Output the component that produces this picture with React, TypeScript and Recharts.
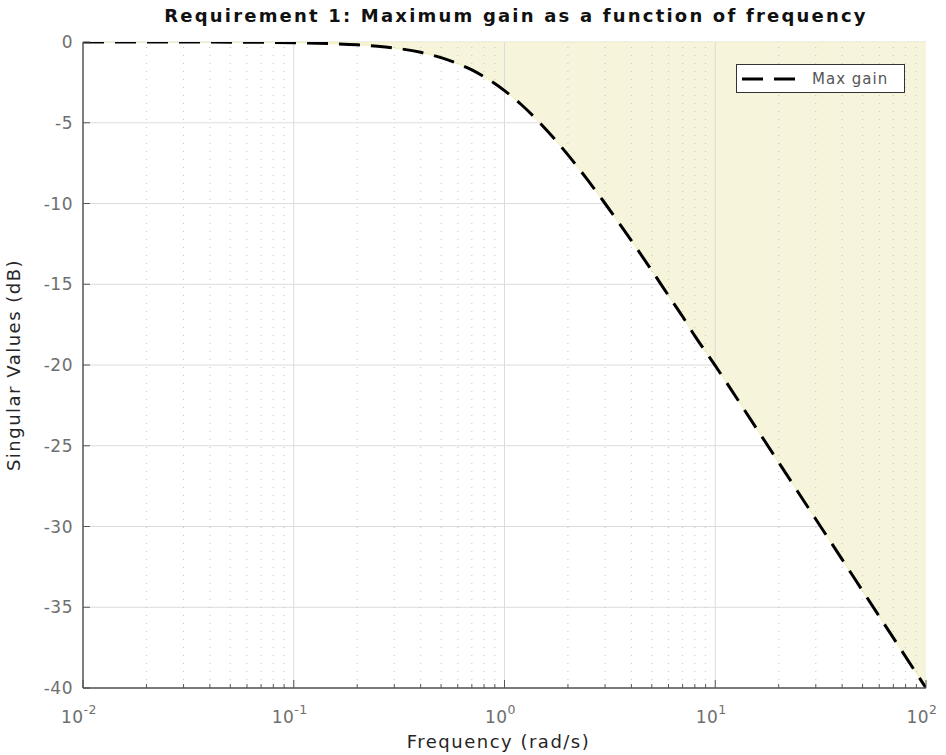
import React from "react";
import {
  ComposedChart,
  Area,
  Line,
  XAxis,
  YAxis,
  CartesianGrid,
  ReferenceLine,
} from "recharts";

// values
const frequencies = [
  0.01, 0.02, 0.05, 0.1, 0.15, 0.2, 0.25, 0.3, 0.4, 0.5, 0.6, 0.7, 0.8, 1, 1.2,
  1.5, 2, 2.5, 3, 4, 5, 6, 7, 8, 10, 15, 20, 30, 40, 50, 70, 100,
];
const maxGainDb = [
  0, -0.002, -0.01, -0.04, -0.1, -0.17, -0.26, -0.37, -0.64, -0.97, -1.34,
  -1.73, -2.15, -3.01, -3.87, -5.12, -6.99, -8.6, -10.0, -12.3, -14.15, -15.7,
  -17.0, -18.2, -20.04, -23.54, -26.03, -29.55, -32.04, -33.98, -36.9, -40.0,
];
const decadeTicks = [0.01, 0.1, 1, 10, 100];
const minorTicks = [2, 3, 4, 5, 6, 7, 8, 9].flatMap((m) =>
  [0.01, 0.1, 1, 10].map((d) => +(m * d).toPrecision(3))
);
const yTicks = [-40, -35, -30, -25, -20, -15, -10, -5, 0];

const data = frequencies.map((f, i) => ({
  freq: f,
  gain: maxGainDb[i],
  band: [maxGainDb[i], 0],
}));

const FONT = "'DejaVu Sans', sans-serif";
const TICK_GREY = "#6e6e6e";

const exponent = (v: number) => Math.round(Math.log10(v));

function XTick(props: any) {
  const { x, y, payload } = props;
  const v = payload.value;
  const isMajor = decadeTicks.includes(v);
  return (
    <g>
      <line x1={x} x2={x} y1={y} y2={y - (isMajor ? 8 : 4)} stroke="#555" strokeWidth={1} />
      {isMajor && (
        <text x={x - 4} y={y + 35} textAnchor="middle" fill={TICK_GREY} fontFamily={FONT} fontSize={17} letterSpacing={0.5}>
          <tspan>10</tspan>
          <tspan dy={-9} fontSize={12.5}>
            {exponent(v)}
          </tspan>
        </text>
      )}
    </g>
  );
}

function YTick(props: any) {
  const { x, y, payload } = props;
  return (
    <g>
      <line x1={x} x2={x + 7} y1={y} y2={y} stroke="#555" strokeWidth={1} />
      <text x={x - 10} y={y + 6} textAnchor="end" fill={TICK_GREY} fontFamily={FONT} fontSize={17} letterSpacing={0.5}>
        {payload.value}
      </text>
    </g>
  );
}

function LegendBox() {
  return (
    <div
      style={{
        position: "absolute",
        top: 64,
        left: 736,
        width: 169,
        height: 29,
        border: "1.5px solid #333",
        background: "#fff",
        boxSizing: "border-box",
        display: "flex",
        alignItems: "center",
        fontFamily: FONT,
        fontSize: 15,
        letterSpacing: 1,
        color: "#555",
      }}
    >
      <svg width={75} height={10}>
        <line x1={5} x2={58} y1={5} y2={5} stroke="#000" strokeWidth={3} strokeDasharray="21 11" />
      </svg>
      <span>Max gain</span>
    </div>
  );
}

export default function App() {
  return (
    <div style={{ position: "absolute", left: 0, top: 0, width: 946, height: 755, background: "#fff" }}>
      <ComposedChart
        width={946}
        height={755}
        data={data}
        margin={{ top: 42, right: 20, left: 0, bottom: 0 }}
      >
        <CartesianGrid vertical={false} stroke="#dcdcdc" strokeWidth={1} />
        {minorTicks.map((t) => (
          <ReferenceLine key={`m${t}`} x={t} stroke="#c4c4c4" strokeDasharray="1 7" strokeWidth={1} />
        ))}
        {decadeTicks.slice(1, -1).map((t) => (
          <ReferenceLine key={`d${t}`} x={t} stroke="#dcdcdc" strokeWidth={1} />
        ))}
        <XAxis
          dataKey="freq"
          type="number"
          scale="log"
          domain={[0.01, 100]}
          ticks={[...decadeTicks, ...minorTicks].sort((a, b) => a - b)}
          allowDataOverflow
          height={67}
          tickSize={0}
          tickMargin={0}
          tickLine={false}
          axisLine={{ stroke: "#555", strokeWidth: 1.5 }}
          tick={<XTick />}
          interval={0}
          label={{
            value: "Frequency (rad/s)",
            position: "insideBottom",
            offset: 7,
            dx: -6,
            fill: "#262626",
            fontFamily: FONT,
            fontSize: 18,
            letterSpacing: 1.5,
          }}
        />
        <YAxis
          type="number"
          domain={[-40, 0]}
          ticks={yTicks}
          allowDataOverflow
          width={83}
          tickSize={0}
          tickMargin={0}
          tickLine={false}
          axisLine={{ stroke: "#555", strokeWidth: 1.5 }}
          tick={<YTick />}
          interval={0}
          label={{
            value: "Singular Values (dB)",
            angle: -90,
            position: "insideLeft",
            offset: 14,
            style: { textAnchor: "middle" },
            fill: "#262626",
            fontFamily: FONT,
            fontSize: 18,
            letterSpacing: 1.5,
          }}
        />
        <Area
          dataKey="band"
          type="monotone"
          fill="#f6f4da"
          fillOpacity={1}
          stroke="#f3eeb8"
          strokeWidth={1}
          isAnimationActive={false}
          legendType="none"
        />
        <Line
          dataKey="gain"
          type="monotone"
          stroke="#000"
          strokeWidth={3}
          strokeDasharray="21 11"
          dot={false}
          isAnimationActive={false}
          name="Max gain"
        />
      </ComposedChart>
      <div
        style={{
          position: "absolute",
          top: 5,
          left: 100,
          width: 832,
          textAlign: "center",
          fontFamily: FONT,
          fontWeight: "bold",
          fontSize: 18,
          letterSpacing: 2.2,
          color: "#111",
        }}
      >
        Requirement 1: Maximum gain as a function of frequency
      </div>
      <LegendBox />
    </div>
  );
}
